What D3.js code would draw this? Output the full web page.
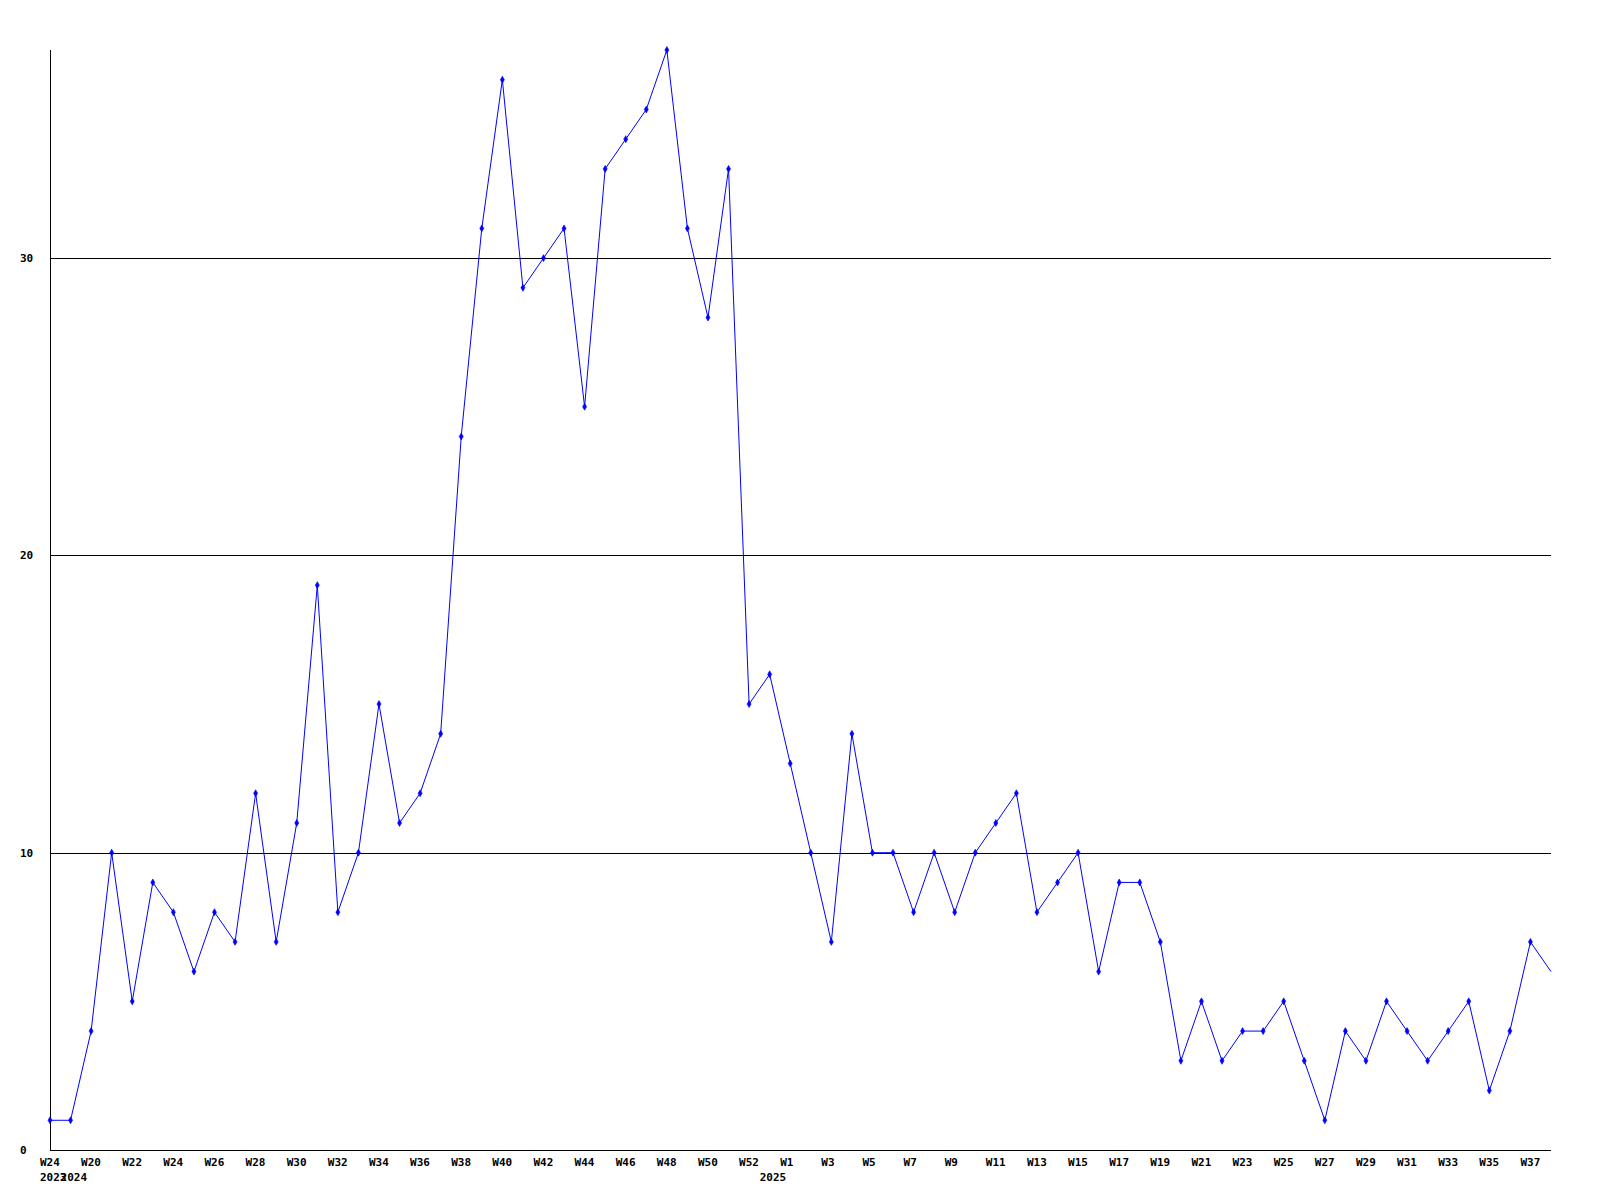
<!DOCTYPE html>
<html>
<head>
<meta charset="utf-8">
<script src="https://cdn.jsdelivr.net/npm/d3@7"></script>
<style>
  body { margin: 0; background: #fff; }
  text { font-family: "DejaVu Sans Mono", monospace; font-size: 11px; font-weight: bold; fill: #000; }
</style>
</head>
<body>
<svg id="chart" width="1600" height="1200"></svg>
<script>
// weekly counts, 2023 W24 then 2024 W19 .. 2025 W38
const weeks = ["W24","W19","W20","W21","W22","W23","W24","W25","W26","W27",
  "W28","W29","W30","W31","W32","W33","W34","W35","W36","W37",
  "W38","W39","W40","W41","W42","W43","W44","W45","W46","W47",
  "W48","W49","W50","W51","W52","W0","W1","W2","W3","W4",
  "W5","W6","W7","W8","W9","W10","W11","W12","W13","W14",
  "W15","W16","W17","W18","W19","W20","W21","W22","W23","W24",
  "W25","W26","W27","W28","W29","W30","W31","W32","W33","W34",
  "W35","W36","W37","W38"];
const years = [2023, 2024, 2024, 2024, 2024, 2024, 2024, 2024, 2024, 2024,
  2024, 2024, 2024, 2024, 2024, 2024, 2024, 2024, 2024, 2024,
  2024, 2024, 2024, 2024, 2024, 2024, 2024, 2024, 2024, 2024,
  2024, 2024, 2024, 2024, 2024, 2025, 2025, 2025, 2025, 2025,
  2025, 2025, 2025, 2025, 2025, 2025, 2025, 2025, 2025, 2025,
  2025, 2025, 2025, 2025, 2025, 2025, 2025, 2025, 2025, 2025,
  2025, 2025, 2025, 2025, 2025, 2025, 2025, 2025, 2025, 2025,
  2025, 2025, 2025, 2025];
const values = [1, 1, 4, 10, 5, 9, 8, 6, 8, 7,
  12, 7, 11, 19, 8, 10, 15, 11, 12, 14,
  24, 31, 36, 29, 30, 31, 25, 33, 34, 35,
  37, 31, 28, 33, 15, 16, 13, 10, 7, 14,
  10, 10, 8, 10, 8, 10, 11, 12, 8, 9,
  10, 6, 9, 9, 7, 3, 5, 3, 4, 4,
  5, 3, 1, 4, 3, 5, 4, 3, 4, 5,
  2, 4, 7, 6];
const yTicks = [0, 10, 20, 30];

const plotLeft = 50, plotRight = 1551, plotTop = 50, plotBottom = 1150;
const svg = d3.select("#chart");

const x = d3.scaleLinear().domain([0, values.length - 1]).range([plotLeft, plotRight]);
const y = d3.scaleLinear().domain([0, 37]).range([plotBottom, plotTop]);

// grid lines
svg.selectAll(".grid")
  .data(yTicks.filter(d => d > 0))
  .enter().append("line")
  .attr("x1", plotLeft).attr("x2", plotRight)
  .attr("y1", d => Math.round(y(d)) + 0.5).attr("y2", d => Math.round(y(d)) + 0.5)
  .attr("stroke", "#000").attr("shape-rendering", "crispEdges");

// axes
svg.append("line").attr("x1", plotLeft + 0.5).attr("x2", plotLeft + 0.5).attr("y1", plotTop).attr("y2", plotBottom)
  .attr("stroke", "#000").attr("shape-rendering", "crispEdges");
svg.append("line").attr("x1", plotLeft).attr("x2", plotRight).attr("y1", plotBottom + 0.5).attr("y2", plotBottom + 0.5)
  .attr("stroke", "#000").attr("shape-rendering", "crispEdges");

// y labels
svg.selectAll(".ylab")
  .data(yTicks)
  .enter().append("text")
  .attr("x", 20).attr("y", d => y(d) + 4)
  .text(d => d);

// week labels, every other point
svg.selectAll(".wlab")
  .data(weeks.map((w, i) => ({ w, i })).filter(d => d.i % 2 === 0))
  .enter().append("text")
  .attr("x", d => x(d.i) - 10).attr("y", 1166)
  .text(d => d.w);

// year labels where year changes
svg.selectAll(".yrlab")
  .data(years.map((yr, i) => ({ yr, i })).filter(d => d.i === 0 || years[d.i - 1] !== d.yr))
  .enter().append("text")
  .attr("x", d => x(d.i) - 10).attr("y", 1181)
  .text(d => d.yr);

// line
const line = d3.line().x((d, i) => x(i)).y(d => y(d));
svg.append("path")
  .datum(values)
  .attr("d", line)
  .attr("fill", "none")
  .attr("stroke", "#0000ff")
  .attr("stroke-width", 1);

// markers
svg.selectAll(".pt")
  .data(values.slice(0, -1))
  .enter().append("path")
  .attr("transform", (d, i) => `translate(${x(i)},${y(d)})`)
  .attr("d", d3.symbol(d3.symbolDiamond, 14))
  .attr("fill", "#0000ff")
  .attr("stroke", "#0000ff")
  .attr("stroke-width", 0.6);
</script>
</body>
</html>
